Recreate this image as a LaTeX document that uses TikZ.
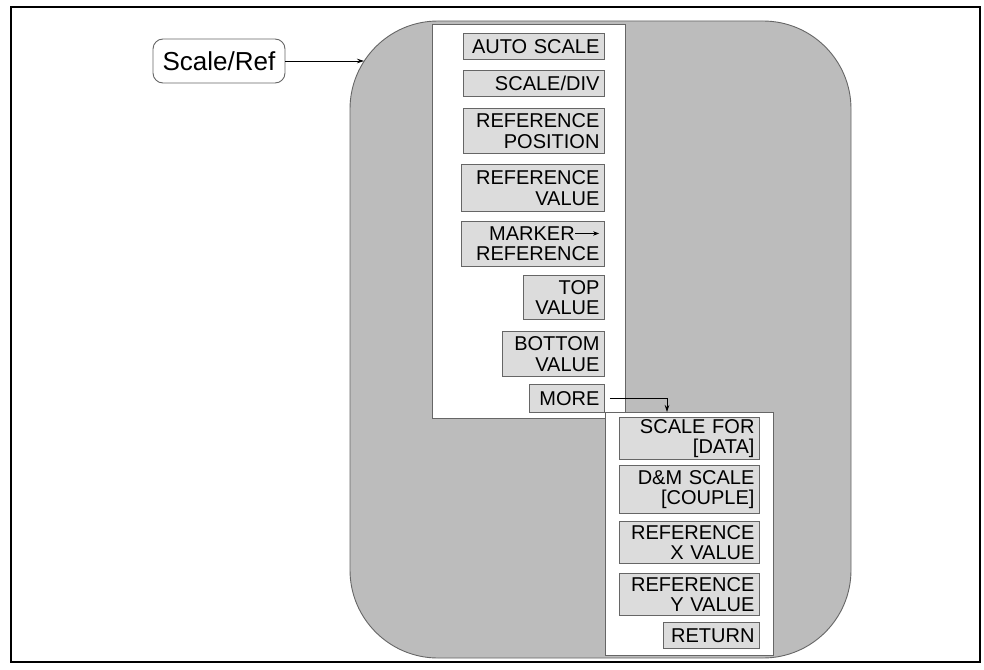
\documentclass[tikz,border=0pt]{standalone}
\usepackage{fontspec}
\setmainfont{Liberation Sans}
\usetikzlibrary{arrows.meta}
\definecolor{bggray}{HTML}{BCBCBC}
\definecolor{btngray}{HTML}{DCDCDC}
\definecolor{edgegray}{HTML}{666666}
\begin{document}
\begin{tikzpicture}[x=1pt,y=-1pt,
  frame/.style={draw=black,line width=2.6pt},
  shade/.style={draw=edgegray,line width=0.9pt,fill=bggray,rounded corners=88pt},
  panel/.style={draw=edgegray,line width=1pt,fill=white,anchor=north west,inner sep=0pt},
  btn/.style n args={3}{draw=edgegray,line width=0.9pt,fill=btngray,anchor=north west,
     minimum width=#1pt,minimum height=#2pt,text width=#3pt,inner xsep=5pt,inner ysep=0pt,
     align=right,font=\fontsize{20}{20.5}\selectfont},
  key/.style={draw=edgegray,line width=0.9pt,fill=white,rounded corners=10pt,
     minimum width=132pt,minimum height=44pt,inner sep=0pt,font=\fontsize{26}{28}\selectfont},
  arr/.style={draw=black,line width=0.7pt,-{Stealth[length=7pt,width=4.5pt]}}]
\useasboundingbox (0,0) rectangle (984,669);
\fill[white] (0,0) rectangle (984,669);
\draw[frame] (11,7) rectangle (980,662);
\draw[shade] (350,21) rectangle (851,658);
% panels
\node[panel,minimum width=193pt,minimum height=394pt] (p1) at (432,24) {};
\node[panel,minimum width=168pt,minimum height=243pt] (p2) at (605,412) {};
% key
\node[key] (sref) at (219,61) {Scale/Ref};
\coordinate (sreftip) at (364,61);
\draw[arr] (sref.east) -- (sreftip);
% first menu
\node[btn={141}{26}{131}] (b1) at (463,33) {AUTO SCALE};
\node[btn={141}{26}{131}] (b2) at (463,70) {SCALE/DIV};
\node[btn={141}{45}{131}] (b3) at (463,108) {REFERENCE\\POSITION};
\node[btn={143}{47}{133}] (b4) at (461,164) {REFERENCE\\VALUE};
\node[btn={143}{45}{133}] (b5) at (461,221) {MARKER\tikz[baseline]{\draw[line width=0.7pt,-{Stealth[length=6pt,width=4.5pt]}] (0pt,7pt) -- (24pt,7pt);}\\REFERENCE};
\node[btn={81}{44}{71}] (b6) at (523,275) {TOP\\VALUE};
\node[btn={102}{45}{92}] (b7) at (502,331) {BOTTOM\\VALUE};
\node[btn={75}{28}{65}] (more) at (529,384) {MORE};
% second menu
\node[btn={140}{42}{130}] (c1) at (619,417) {SCALE FOR\\{[DATA]}};
\node[btn={140}{48}{130}] (c2) at (619,465) {D\&M SCALE\\{[COUPLE]}};
\node[btn={140}{42}{130}] (c3) at (619,521) {REFERENCE\\X VALUE};
\node[btn={140}{42}{130}] (c4) at (619,573) {REFERENCE\\Y VALUE};
\node[btn={96}{26}{86}] (c5) at (663,622) {RETURN};
\coordinate (moretip) at (667,412);
\draw[arr] ([xshift=5pt]more.east) -| (moretip);
\end{tikzpicture}
\end{document}
